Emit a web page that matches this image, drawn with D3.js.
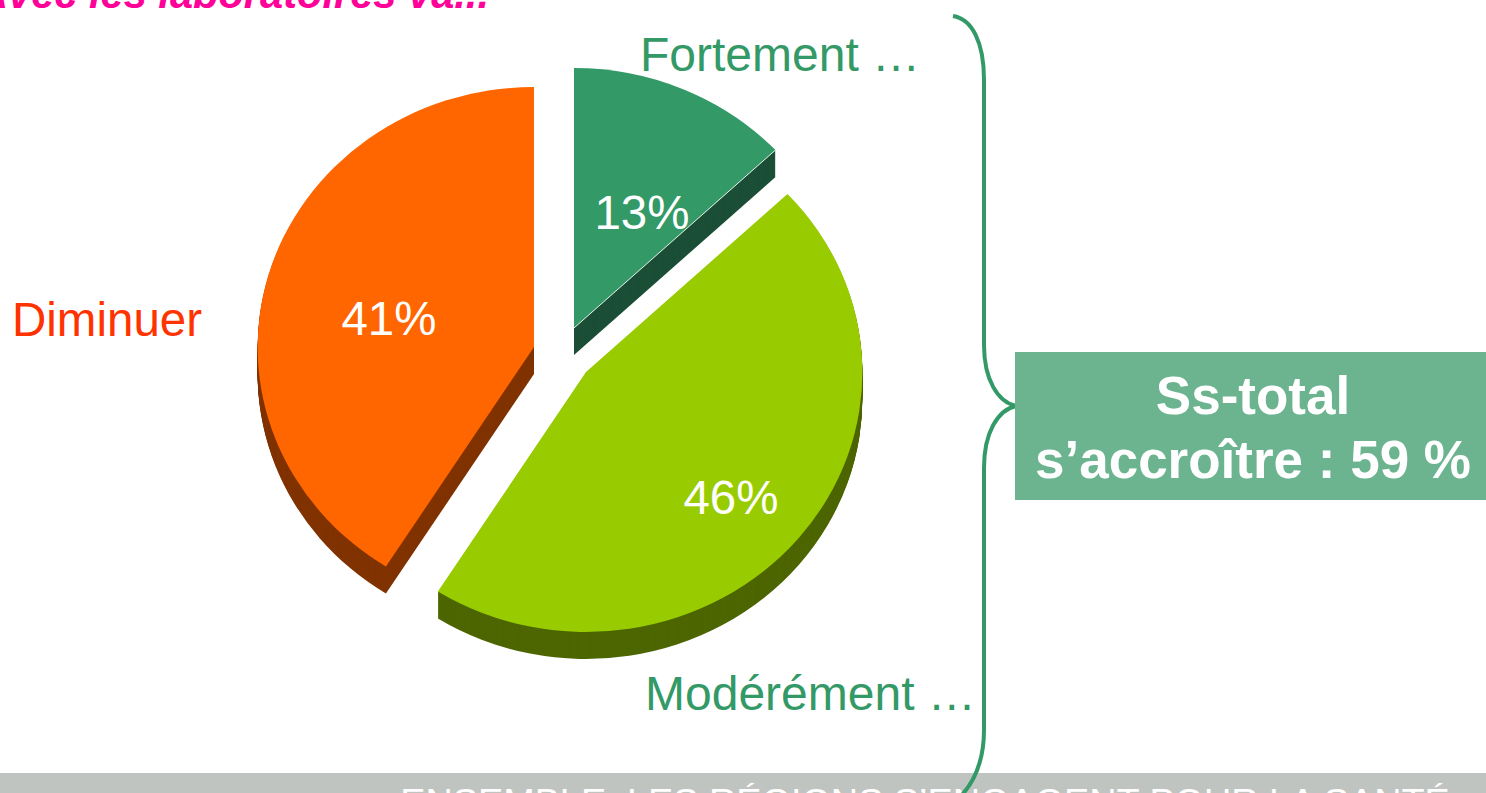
<!DOCTYPE html>
<html>
<head>
<meta charset="utf-8">
<script src="https://cdnjs.cloudflare.com/ajax/libs/d3/7.8.5/d3.min.js"></script>
<style>
  html, body { margin: 0; padding: 0; background: #fff; overflow: hidden; }
  text { font-family: "Liberation Sans", Arial, sans-serif; }
</style>
</head>
<body>
<div id="chart"></div>
<script>
// --- Data ---
const categories = ['Fortement …', 'Modérément …', 'Diminuer'];
const values = [13, 46, 41];
const percentLabels = ['13%', '46%', '41%'];
const topColors = ['#339966', '#99CC00', '#FF6600'];
const sideColors = ['#1C4F37', '#4D6600', '#803300'];
const labelColors = ['#339966', '#339966', '#FF3300'];
const titleText = 'Avec les laboratoires va...';
const totalLines = ['Ss-total', 's’accroître : 59 %'];
const footerText = 'ENSEMBLE, LES RÉGIONS S’ENGAGENT POUR LA SANTÉ';

const W = 1486, H = 793;

const svg = d3.select('#chart').append('svg')
    .attr('width', W)
    .attr('height', H)
    .style('display', 'block');

// --- Footer band ---
svg.append('rect')
    .attr('x', 0).attr('y', 773)
    .attr('width', W).attr('height', 20)
    .attr('fill', '#BFC4C1');

svg.append('text')
    .attr('x', 925).attr('y', 815)
    .attr('text-anchor', 'middle')
    .attr('font-size', 37.8)
    .attr('fill', '#fff')
    .text(footerText);

// --- Title, cut by the top of the picture ---
svg.append('text')
    .attr('x', -22).attr('y', 8)
    .attr('font-size', 41.6)
    .attr('font-weight', 'bold')
    .attr('font-style', 'italic')
    .attr('fill', '#FF0099')
    .text(titleText);

// --- Pie ---
const pieCenter = { x: 563, y: 354 };
const radius = 260;
const squash = 1.063;   // pie is a bit wider than tall
const depth = 27;
// exploded slice offsets from the pie centre
const explode = [[11, -26], [23, 18], [-29, -7]];

const pie = d3.pie().sort(null).startAngle(0).endAngle(2 * Math.PI);
const arc = d3.arc().innerRadius(0).outerRadius(radius);
const slices = pie(values);

const sliceG = svg.selectAll('.slice')
    .data(slices)
    .enter().append('g')
    .attr('class', 'slice')
    .attr('transform', (d, i) =>
        `translate(${pieCenter.x + explode[i][0]},${pieCenter.y + explode[i][1]})`);

// side wall: stacked copies of the slice going down
sliceG.each(function (d, i) {
    d3.select(this).selectAll('.side')
        .data(d3.range(depth, 0, -1))
        .enter().append('path')
        .attr('class', 'side')
        .attr('d', arc(d))
        .attr('transform', k => `translate(0,${k}) scale(${squash},1)`)
        .attr('fill', sideColors[i]);
});

sliceG.append('path')
    .attr('class', 'top')
    .attr('d', d => arc(d))
    .attr('transform', `scale(${squash},1)`)
    .attr('fill', (d, i) => topColors[i]);

// thin light edge between the green top and its wall
sliceG.filter((d, i) => i === 0).append('line')
    .attr('x1', 0).attr('y1', 0)
    .attr('x2', d => Math.sin(d.endAngle) * radius * squash)
    .attr('y2', d => -Math.cos(d.endAngle) * radius)
    .attr('stroke', '#E8F3EC')
    .attr('stroke-width', 1);

// --- Percent labels ---
const percentPos = [[642, 229], [731, 514], [389, 335]];
svg.selectAll('.pct')
    .data(percentLabels)
    .enter().append('text')
    .attr('class', 'pct')
    .attr('x', (d, i) => percentPos[i][0])
    .attr('y', (d, i) => percentPos[i][1])
    .attr('text-anchor', 'middle')
    .attr('font-size', 47.5)
    .attr('fill', '#fff')
    .text(d => d);

// --- Category labels ---
const labelPos = [[640, 71], [645, 710], [12, 336]];
const labelSizes = [48, 48, 47.5];
svg.selectAll('.cat')
    .data(categories)
    .enter().append('text')
    .attr('class', 'cat')
    .attr('x', (d, i) => labelPos[i][0])
    .attr('y', (d, i) => labelPos[i][1])
    .attr('font-size', (d, i) => labelSizes[i])
    .attr('fill', (d, i) => labelColors[i])
    .text(d => d);

// --- Brace ---
svg.append('path')
    .attr('d', 'M953,16 C972,19 984,42 984,80 L984,345 C984,380 998,402 1016,406 ' +
               'C998,410 984,432 984,468 L984,730 C984,760 974,785 955,802')
    .attr('fill', 'none')
    .attr('stroke', '#339966')
    .attr('stroke-width', 4);

// --- Subtotal box ---
svg.append('rect')
    .attr('x', 1015).attr('y', 352)
    .attr('width', 471).attr('height', 148)
    .attr('fill', '#6CB48F');

svg.selectAll('.total')
    .data(totalLines)
    .enter().append('text')
    .attr('class', 'total')
    .attr('x', 1253)
    .attr('y', (d, i) => 414 + i * 64)
    .attr('text-anchor', 'middle')
    .attr('font-size', 53)
    .attr('font-weight', 'bold')
    .attr('fill', '#fff')
    .text(d => d);
</script>
</body>
</html>
